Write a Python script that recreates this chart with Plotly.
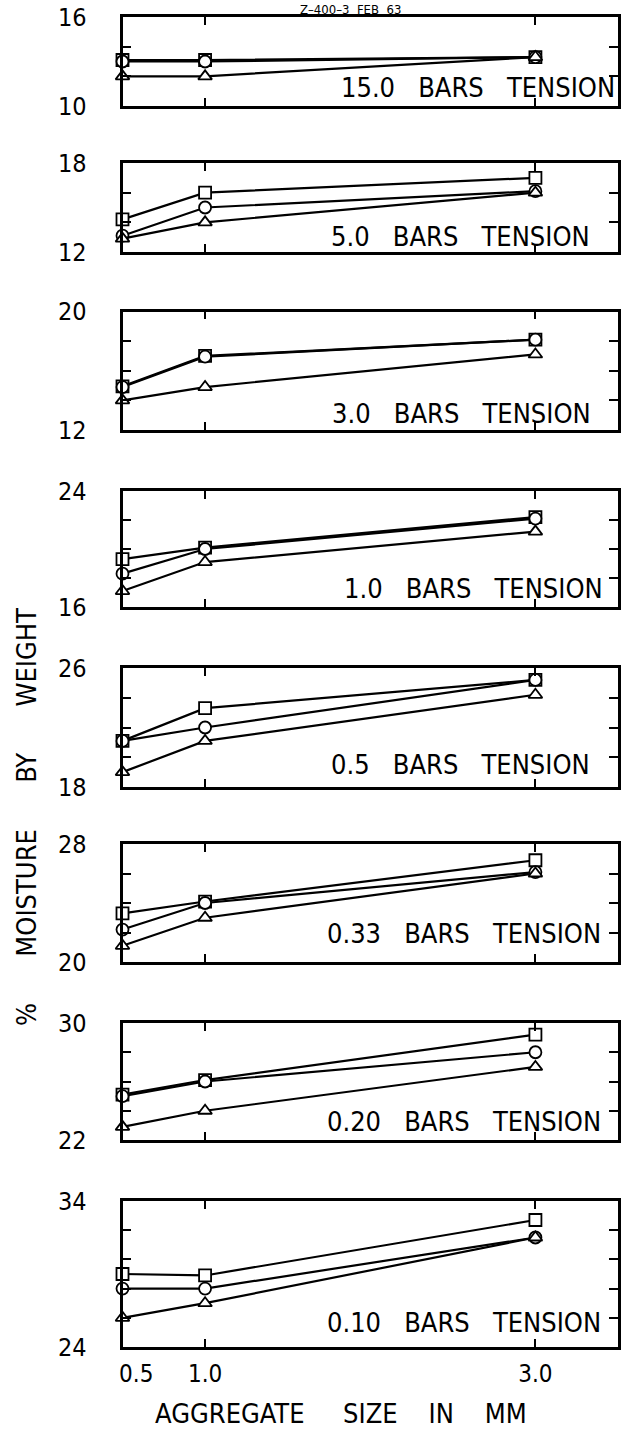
import plotly.graph_objects as go

W, H = 622, 1431

# ---- data ----
sizes_mm = [0.5, 1.0, 3.0]
tension_labels = ["15.0", "5.0", "3.0", "1.0", "0.5", "0.33", "0.20", "0.10"]
y_lo = [10, 12, 12, 16, 18, 20, 22, 24]
y_hi = [16, 18, 20, 24, 26, 28, 30, 34]
minor_ticks = [[12, 14], [14, 16], [14, 16, 18], [18, 20, 22], [20, 22, 24],
               [22, 24, 26], [24, 26, 28], [26, 28, 30, 32]]

square_vals = [[13.1, 13.1, 13.3], [14.2, 16.0, 17.0], [14.95, 17.0, 18.1],
               [19.3, 20.1, 22.2], [21.1, 23.3, 25.2], [23.3, 24.1, 26.9],
               [25.1, 26.1, 29.2], [29.0, 28.9, 32.7]]
circle_vals = [[13.0, 13.0, 13.3], [13.1, 15.0, 16.1], [14.9, 16.95, 18.1],
               [18.3, 20.0, 22.1], [21.1, 22.0, 25.2], [22.2, 24.0, 26.1],
               [25.0, 26.0, 28.0], [28.0, 28.0, 31.5]]
triangle_vals = [[12.0, 12.0, 13.3], [12.9, 14.0, 16.0], [14.0, 14.9, 17.1],
                 [17.1, 19.1, 21.2], [19.0, 21.1, 24.2], [21.1, 23.0, 26.0],
                 [22.9, 24.0, 27.0], [26.0, 27.0, 31.5]]

# ---- layout geometry (pixels) ----
box_left, box_right = 122.5, 618
panel_top = [17, 163, 311.5, 491, 668, 844, 1023, 1201]
panel_bot = [106, 252, 430, 607, 787, 962, 1140, 1347]
label_right = [617, 592, 593, 605, 592, 603, 603, 603]
label_up = [19, 15, 17, 19, 23, 29, 19, 25]

FONT = "Liberation Sans Narrow, DejaVu Sans Condensed, Arial Narrow, Liberation Sans, sans-serif"

fig = go.Figure()
series = [("square", square_vals), ("circle", circle_vals), ("triangle-up", triangle_vals)]

layout = dict(
    width=W, height=H, autosize=False,
    margin=dict(l=0, r=0, t=0, b=0, pad=0),
    paper_bgcolor="white", plot_bgcolor="white",
    showlegend=False,
    font=dict(family=FONT, color="black", size=24),
)

annotations = []
for i in range(8):
    n = i + 1
    xa = "x" if n == 1 else f"x{n}"
    ya = "y" if n == 1 else f"y{n}"
    for sym, vals in series:
        fig.add_trace(go.Scatter(
            x=sizes_mm, y=vals[i], xaxis=xa, yaxis=ya, mode="lines+markers",
            line=dict(color="black", width=2.2),
            marker=dict(symbol=sym, size=12, color="white",
                        line=dict(color="black", width=1.8)),
            cliponaxis=False, name=sym,
        ))
    xkey = "xaxis" if n == 1 else f"xaxis{n}"
    ykey = "yaxis" if n == 1 else f"yaxis{n}"
    last = (n == 8)
    layout[xkey] = dict(
        domain=[box_left / W, box_right / W], anchor=ya, automargin=False,
        range=[0.5, 3.5], showgrid=False, zeroline=False,
        showline=True, linecolor="black", linewidth=2.8, mirror="ticks",
        ticks="inside", ticklen=8, tickwidth=1.5, tickcolor="black",
        tickmode="array", tickvals=sizes_mm,
        ticktext=["\u00a0\u00a0\u00a0\u00a00.5", "1.0", "3.0"],
        showticklabels=last, ticklabelstandoff=3,
        tickfont=dict(size=24, family=FONT),
    )
    layout[ykey] = dict(
        domain=[1 - panel_bot[i] / H, 1 - panel_top[i] / H], anchor=xa,
        automargin=False,
        range=[y_lo[i], y_hi[i]], showgrid=False, zeroline=False,
        showline=True, linecolor="black", linewidth=2.8, mirror="ticks",
        ticks="inside", ticklen=9, tickwidth=1.5, tickcolor="black",
        tickmode="array", tickvals=[y_lo[i], y_hi[i]],
        ticktext=[str(y_lo[i]), str(y_hi[i])],
        ticklabelstandoff=28, tickfont=dict(size=25, family=FONT),
        minor=dict(tickvals=minor_ticks[i], ticks="inside", ticklen=9,
                   tickwidth=1.5, tickcolor="black"),
    )
    annotations.append(dict(
        xref=f"{xa} domain", yref=f"{ya} domain", x=1, y=0,
        xanchor="right", yanchor="middle",
        xshift=-(box_right - label_right[i]), yshift=label_up[i],
        text=f"{tension_labels[i]}\u00a0\u00a0\u00a0BARS\u00a0\u00a0\u00a0TENSION",
        showarrow=False, font=dict(size=27, family=FONT),
    ))

annotations.append(dict(
    xref="paper", yref="paper", x=26 / W, y=1 - 817 / H,
    xanchor="center", yanchor="middle", textangle=-90,
    text="%\u00a0\u00a0\u00a0\u00a0\u00a0\u00a0MOISTURE\u00a0\u00a0\u00a0\u00a0\u00a0\u00a0BY\u00a0\u00a0\u00a0\u00a0\u00a0\u00a0WEIGHT",
    showarrow=False, font=dict(size=27, family=FONT),
))
annotations.append(dict(
    xref="paper", yref="paper", x=341 / W, y=1 - 1413 / H,
    xanchor="center", yanchor="middle",
    text="AGGREGATE\u00a0\u00a0\u00a0\u00a0\u00a0SIZE\u00a0\u00a0\u00a0\u00a0IN\u00a0\u00a0\u00a0\u00a0MM",
    showarrow=False, font=dict(size=27, family=FONT),
))
annotations.append(dict(
    xref="paper", yref="paper", x=350 / W, y=1,
    xanchor="center", yanchor="top", yshift=0,
    text="Z\u2013400\u20133\u00a0\u00a0FEB\u00a0\u00a063",
    showarrow=False, font=dict(size=13, family=FONT),
))
layout["annotations"] = annotations
fig.update_layout(**layout)
fig.write_html("out.html")
